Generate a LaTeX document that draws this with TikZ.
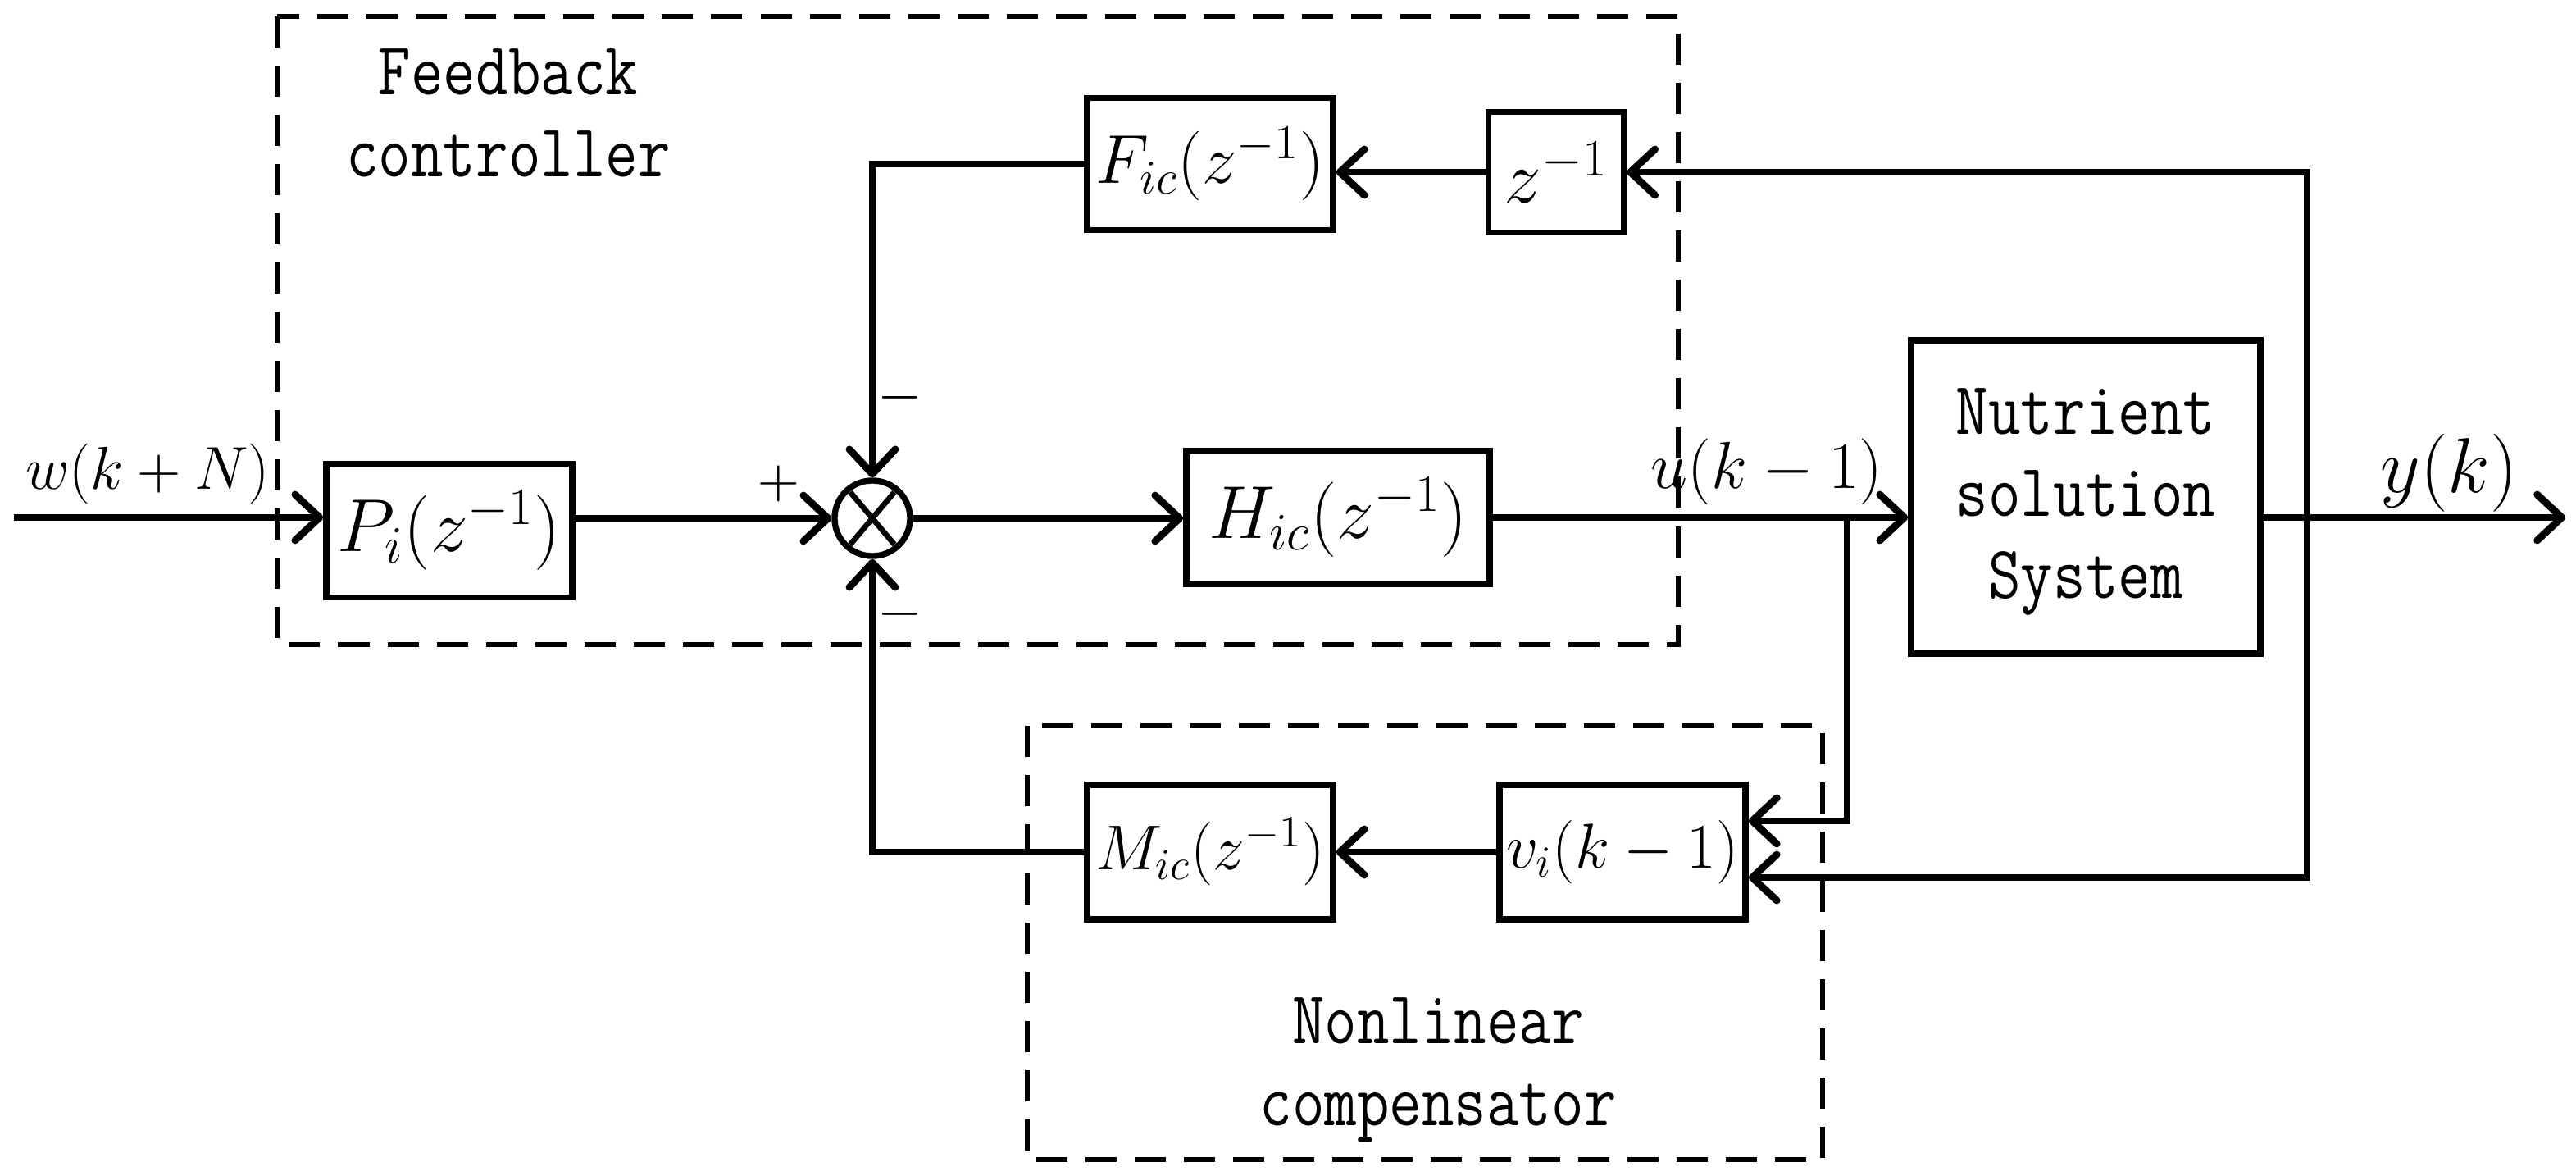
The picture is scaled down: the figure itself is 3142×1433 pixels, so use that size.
\RequirePackage{fix-cm}
\documentclass[tikz,border=0pt]{standalone}
\usepackage{graphicx}
\usetikzlibrary{arrows.meta}
\newcommand{\cnd}[1]{\scalebox{0.84}[1]{#1}}
\tikzset{
  conn/.style={line width=2.5pt, -{Straight Barb[length=3mm,width=5.6mm,round]}},
  blk/.style={draw, line width=2.1pt, inner sep=0pt},
  dashbox/.style={line width=1.7pt, dash pattern=on 3.8mm off 2.2mm},
  lbl/.style={inner sep=0pt},
  mono/.style={font=\fontsize{26}{28.5}\selectfont\ttfamily, align=center, inner sep=0pt},
  sgn/.style={inner sep=0pt, font=\fontsize{20}{22}\selectfont},
}
\begin{document}
\begin{tikzpicture}[x=0.01cm,y=-0.01cm]
\useasboundingbox (0,0) rectangle (3142,1433);

% dashed groups
\draw[dashbox] (338,20) rectangle (2047,786);
\draw[dashbox] (1253,885) rectangle (2223,1414);

\node[mono] (fbtext) at (620,138) {\cnd{Feedback}\\\cnd{controller}};
\node[mono] (nctext) at (1754,1305) {\cnd{Nonlinear}\\\cnd{compensator}};

% blocks
\node[blk, minimum width=3cm, minimum height=1.63cm, font=\fontsize{26}{30}\selectfont] (P) at (548,647) {$P_i(z^{-1})$};
\node[draw, circle, line width=2.1pt, minimum size=0.92cm, inner sep=0pt] (sum) at (1064,632) {};
\draw[line width=1.9pt] ([shift={(-27,-32)}]sum.center) -- ([shift={(27,32)}]sum.center);
\draw[line width=1.9pt] ([shift={(27,-32)}]sum.center) -- ([shift={(-27,32)}]sum.center);
\node[blk, minimum width=3.7cm, minimum height=1.62cm, font=\fontsize{26}{30}\selectfont] (H) at (1632,631) {$H_{ic}(z^{-1})$};
\node[blk, minimum width=3cm, minimum height=1.61cm, font=\fontsize{24}{28}\selectfont] (F) at (1476,200) {$F_{ic}(z^{-1})$};
\node[blk, minimum width=1.65cm, minimum height=1.47cm, font=\fontsize{26}{30}\selectfont] (z) at (1898,210) {$z^{-1}$};
\node[blk, minimum width=4.26cm, minimum height=3.82cm] (N) at (2544,606) {};
\node[mono] (ntext) at (2544,612) {\cnd{Nutrient}\\\cnd{solution}\\\cnd{System}};
\node[blk, minimum width=3cm, minimum height=1.64cm, font=\fontsize{22}{26}\selectfont] (M) at (1476,1039) {$M_{ic}(z^{-1})$};
\node[blk, minimum width=3cm, minimum height=1.64cm, font=\fontsize{22}{26}\selectfont] (v) at (1979,1039) {$v_i(k-1)$};

% labels
\node[lbl, font=\fontsize{21}{26}\selectfont] (wl) at (180,578) {$w(k+N)$};
\node[lbl, font=\fontsize{23}{27}\selectfont] (ul) at (2155,575) {$u(k-1)$};
\node[lbl, font=\fontsize{27}{31}\selectfont] (yl) at (2987,577) {$y(k)$};
\node[sgn] (plus) at (950,590) {$+$};
\node[sgn] (mtop) at (1098,485) {$-$};
\node[sgn] (mbot) at (1098,749) {$-$};

% junction points
\coordinate (inp) at (17,631);
\coordinate (uj) at (2253,631);
\coordinate (yj) at (2814,631);
\coordinate (out) at (3129,631);

% connectors
\draw[conn] (inp) -- (inp -| P.west);
\draw[conn] (P.east |- sum.west) -- (sum.west);
\draw[conn] (sum.east) -- (sum.east -| H.west);
\draw[conn] (H.east) -- (H.east -| N.west);
\draw[conn] (H.east -| N.east) -- (out);
\draw[conn] (uj) |- ([yshift=0.38cm]v.east);
\draw[conn] (yj) |- (z.east);
\draw[conn] (yj) |- ([yshift=-0.31cm]v.east);
\draw[conn] (z.west) -- (z.west -| F.east);
\draw[conn] (F.west) -| (sum.north);
\draw[conn] (v.west) -- (M.east);
\draw[conn] (M.west) -| (sum.south);
\end{tikzpicture}
\end{document}
